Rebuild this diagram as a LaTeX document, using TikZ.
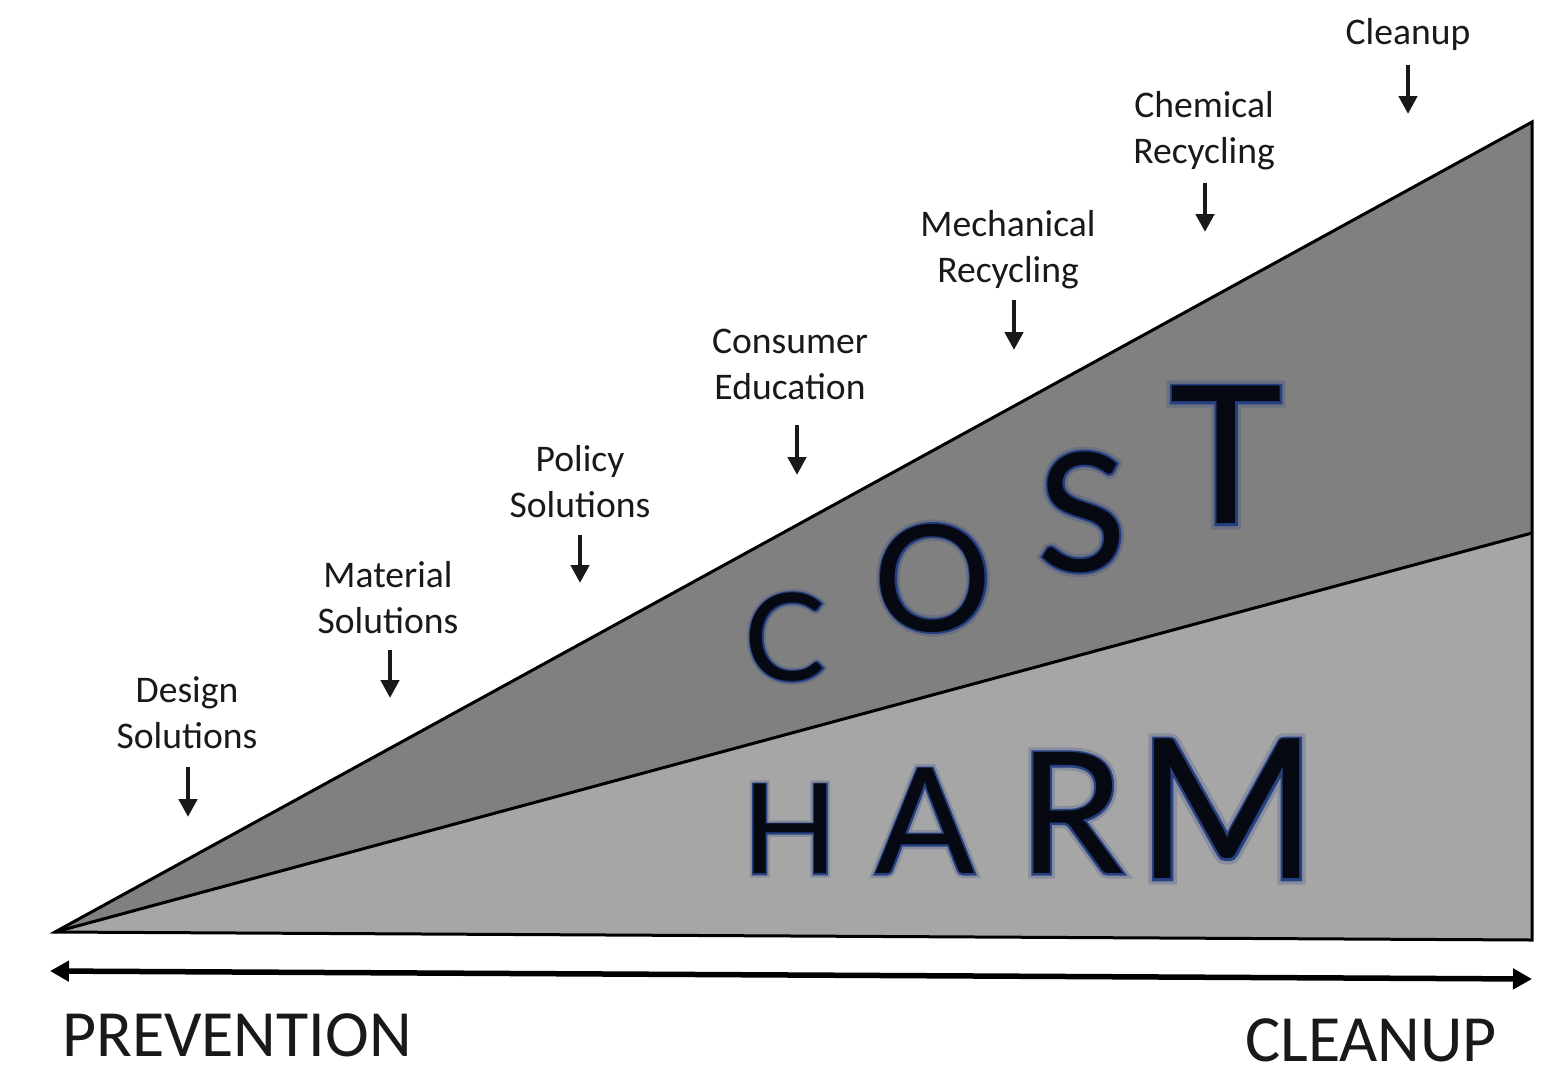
\documentclass[tikz,border=0pt]{standalone}
\usepackage{fontspec}
\setmainfont{Carlito}
\newfontfamily\letterfont{Lato}
\newfontfamily\glowfont[FakeBold=2.5]{Lato}
\newfontfamily\haloFont[FakeBold=6]{Lato}
\usetikzlibrary{arrows.meta}
\definecolor{costgray}{RGB}{128,128,128}
\definecolor{harmgray}{RGB}{166,166,166}
\definecolor{glowblue}{RGB}{30,58,128}
\definecolor{letterink}{RGB}{6,8,18}
\definecolor{ink}{RGB}{25,25,25}
\tikzset{
  lab/.style={font=\fontsize{37.6}{46}\selectfont, text=ink, inner sep=0pt, anchor=base},
  pointer/.style={line width=4.5pt, draw=ink, -{Triangle[width=18pt,length=18pt]}},
  axis/.style={line width=5.5pt, draw=black, {Triangle[width=20pt,length=19pt]}-{Triangle[width=20pt,length=19pt]}},
  big/.style={font=\fontsize{66}{66}\selectfont, text=ink, inner sep=0pt, anchor=base west},
  bigletter/.style={inner sep=0pt, text=letterink},
}
\newcommand\GlowLetter[5]{%
  \node[bigletter,text=glowblue,opacity=.22,font=\haloFont\fontsize{#4}{#4}\selectfont] at (#2,#3) {#5};
  \node[bigletter,text=glowblue,opacity=.9,font=\glowfont\fontsize{#4}{#4}\selectfont] at (#2,#3) {#5};
  \node[bigletter,font=\letterfont\fontsize{#4}{#4}\selectfont] (#1) at (#2,#3) {#5};%
}
\begin{document}
\begin{tikzpicture}[x=1pt,y=-1pt]
\useasboundingbox (0,0) rectangle (1568,1069);
% wedge
\coordinate (apex) at (55,932);
\coordinate (topR) at (1532,122);
\coordinate (midR) at (1532,533);
\coordinate (botR) at (1532,940);
\fill[costgray] (apex) -- (topR) -- (midR) -- cycle;
\fill[harmgray] (apex) -- (midR) -- (botR) -- cycle;
\draw[line width=3pt, line join=miter] (apex) -- (topR) -- (botR) -- cycle;
\draw[line width=3pt] (apex) -- (midR);

% COST / HARM letters
\GlowLetter{lc}{785}{637}{121}{C}
\GlowLetter{lo}{933}{578}{148}{O}
\GlowLetter{ls}{1082}{512}{165}{S}
\GlowLetter{lt}{1226}{455}{192}{T}
\GlowLetter{lh}{790}{829}{125}{H}
\GlowLetter{la}{925}{821}{147}{A}
\GlowLetter{lr}{1071}{813}{169}{R}
\GlowLetter{lm}{1227}{809}{195}{M}

% labels
\node[lab] (cl) at (1408,44) {Cleanup};
\node[lab] (ch1) at (1204,117) {Chemical};
\node[lab] (ch2) at (1204,163) {Recycling};
\node[lab] (me1) at (1008,236) {Mechanical};
\node[lab] (me2) at (1008,282) {Recycling};
\node[lab] (co1) at (790,353) {Consumer};
\node[lab] (co2) at (790,399) {Education};
\node[lab] (po1) at (580,471) {Policy};
\node[lab] (po2) at (580,517) {Solutions};
\node[lab] (ma1) at (388,587) {Material};
\node[lab] (ma2) at (388,633) {Solutions};
\node[lab] (de1) at (187,702) {Design};
\node[lab] (de2) at (187,748) {Solutions};

% pointer arrows
\coordinate (clA) at (1408,65);  \coordinate (clB) at (1408,114);
\coordinate (chA) at (1205,183); \coordinate (chB) at (1205,232);
\coordinate (meA) at (1014,300); \coordinate (meB) at (1014,350);
\coordinate (coA) at (797,425);  \coordinate (coB) at (797,475);
\coordinate (poA) at (580,535);  \coordinate (poB) at (580,583);
\coordinate (maA) at (390,650);  \coordinate (maB) at (390,698);
\coordinate (deA) at (188,767);  \coordinate (deB) at (188,817);
\foreach \p in {cl,ch,me,co,po,ma,de}{\draw[pointer] (\p A) -- (\p B);}

% axis
\coordinate (axL) at (50,971);
\coordinate (axR) at (1532,979);
\draw[axis] (axL) -- (axR);
\node[big] (prev) at (62,1056) {PREVENTION};
\node[big] (clean) at (1245,1061) {CLEANUP};
\end{tikzpicture}
\end{document}
